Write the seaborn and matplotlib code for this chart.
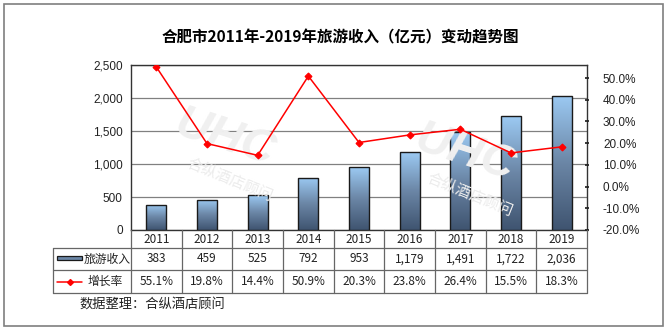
import numpy as np
import pandas as pd
import matplotlib
matplotlib.use("Agg")
import matplotlib.pyplot as plt
from matplotlib.colors import LinearSegmentedColormap
from matplotlib.patches import Rectangle
from matplotlib.lines import Line2D
import seaborn as sns

years = ["2011", "2012", "2013", "2014", "2015", "2016", "2017", "2018", "2019"]
income = [383, 459, 525, 792, 953, 1179, 1491, 1722, 2036]
growth = [0.551, 0.198, 0.144, 0.509, 0.203, 0.238, 0.264, 0.155, 0.183]
income_labels = ["383", "459", "525", "792", "953", "1,179", "1,491", "1,722", "2,036"]
growth_labels = ["55.1%", "19.8%", "14.4%", "50.9%", "20.3%", "23.8%", "26.4%", "15.5%", "18.3%"]
left_ticks = [0, 500, 1000, 1500, 2000, 2500]
right_ticks = [-0.2, -0.1, 0.0, 0.1, 0.2, 0.3, 0.4, 0.5]
title = "合肥市2011年-2019年旅游收入（亿元）变动趋势图"
series_names = ["旅游收入", "增长率"]
source = "数据整理：合纵酒店顾问"

sns.set_theme(style="white")
plt.rcParams['font.family'] = ['Liberation Sans', 'Noto Sans CJK SC', 'DejaVu Sans']
CJK = ['Noto Sans CJK SC', 'DejaVu Sans']

W, H = 668, 333
fig = plt.figure(figsize=(W / 100, H / 100), dpi=100)
fig.patch.set_facecolor("white")

def fx(x):
    return x / W

def fy(y):
    return 1 - y / H

# outer frame
fig.add_artist(Rectangle((fx(4), fy(326)), fx(659), (322) / H, transform=fig.transFigure,
                         fill=False, edgecolor="#7f7f7f", linewidth=1.2))

fig.text(fx(340), fy(37), title, ha="center", va="center", fontsize=11.2,
         fontweight="bold", family=CJK, color="black")

L, R, T, B = 131, 587, 65, 230
ax = fig.add_axes([fx(L), fy(B), fx(R - L), (B - T) / H])

df = pd.DataFrame({"year": years, "income": income, "growth": growth})
sns.barplot(data=df, x="year", y="income", ax=ax, width=0.4, color="#9cc8f0",
            edgecolor="#1a1a1a", linewidth=1.0, zorder=3)
ax.set_ylim(0, 2500)
ax.set_xlim(-0.5, len(years) - 0.5)
ax.set_yticks(left_ticks)
ax.set_yticklabels([f"{v:,}" for v in left_ticks], fontsize=8.5)
ax.set_xticks([])
ax.set_xlabel("")
ax.set_ylabel("")
ax.yaxis.grid(True, color="#808080", linewidth=0.9, zorder=0)
ax.set_axisbelow(True)
for s in ax.spines.values():
    s.set_color("#333333")
    s.set_linewidth(1.0)
ax.tick_params(axis="y", length=0, pad=6, colors="#222222")

# gradient fill for bars
cmap = LinearSegmentedColormap.from_list("g", ["#3f5470", "#6b86a6", "#9ccaf3"])
grad = np.linspace(0, 1, 256).reshape(-1, 1)
for p in ax.patches:
    x0, y0 = p.get_x(), p.get_y()
    w, h = p.get_width(), p.get_height()
    im = ax.imshow(grad, extent=[x0, x0 + w, y0, y0 + h], origin="lower",
                   cmap=cmap, aspect="auto", zorder=3.5)
    im.set_clip_path(p)
    p.set_zorder(4)
    p.set_facecolor("none")

# faint watermark
for (wx, wy) in [(225, 150), (465, 165)]:
    fig.text(fx(wx), fy(wy - 12), "UHC", fontsize=34, fontweight="bold", fontstyle="italic",
             color="#f0f0f0", rotation=-18, ha="center", va="center", zorder=0.5)
    fig.text(fx(wx + 5), fy(wy + 30), "合纵酒店顾问", fontsize=11, family=CJK,
             color="#ececec", rotation=-22, ha="center", va="center", zorder=0.5)

ax2 = ax.twinx()
sns.pointplot(data=df, x="year", y="growth", ax=ax2, color="#ff0000", markers="D",
              markersize=3.5, linewidth=1.1, errorbar=None)
ax2.set_ylim(-0.2, 0.56)
ax2.set_xlim(-0.5, len(years) - 0.5)
ax2.set_yticks(right_ticks)
ax2.set_yticklabels([f"{v * 100:.1f}%" for v in right_ticks], fontsize=8.5)
ax2.tick_params(axis="y", length=3, pad=10, colors="#222222", direction="inout")
ax2.set_ylabel("")
ax2.set_xlabel("")
for s in ax2.spines.values():
    s.set_visible(False)
ax2.set_zorder(ax.get_zorder() + 1)
ax2.patch.set_visible(False)

# data table
line_c = "#666666"
cw = (R - L) / len(years)
TL = 53

def hline(y, x0, x1):
    fig.add_artist(Line2D([fx(x0), fx(x1)], [fy(y), fy(y)], color=line_c, lw=0.9))

def vline(x, y0, y1):
    fig.add_artist(Line2D([fx(x), fx(x)], [fy(y0), fy(y1)], color=line_c, lw=0.9))

hline(248, TL, R)
hline(270, TL, R)
hline(293, TL, R)
vline(TL, 248, 293)
for i in range(len(years) + 1):
    vline(L + i * cw, 230, 293)

for i in range(len(years)):
    cx = L + (i + 0.5) * cw
    fig.text(fx(cx), fy(239.5), years[i], ha="center", va="center", fontsize=8.5,
             family=CJK, color="#222222")
    fig.text(fx(cx), fy(259), income_labels[i], ha="center", va="center", fontsize=8.5,
             family=CJK, color="#222222")
    fig.text(fx(cx), fy(281.5), growth_labels[i], ha="center", va="center", fontsize=8.5,
             family=CJK, color="#222222")

# legend keys in table
fig.add_artist(Rectangle((fx(57), fy(260)), fx(25), 4 / H, transform=fig.transFigure,
                         facecolor="#6b86a6", edgecolor="#1a1a1a", lw=0.9))
fig.text(fx(84), fy(259), series_names[0], ha="left", va="center", fontsize=8.5,
         family=CJK, color="#222222")
fig.add_artist(Line2D([fx(57), fx(82)], [fy(281.5), fy(281.5)], color="#ff0000", lw=1.1))
fig.add_artist(Line2D([fx(69.5)], [fy(281.5)], color="#ff0000", marker="D", markersize=3))
fig.text(fx(88), fy(281.5), series_names[1], ha="left", va="center", fontsize=8.5,
         family=CJK, color="#222222")

fig.text(fx(79), fy(304), source, ha="left", va="center", fontsize=9.5, family=CJK,
         color="#222222")

fig.savefig("out.png", dpi=100, facecolor="white")
